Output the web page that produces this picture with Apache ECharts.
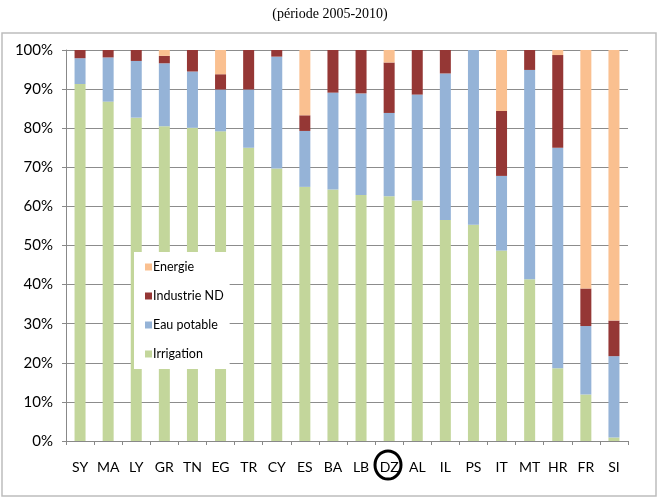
<!DOCTYPE html>
<html>
<head>
<meta charset="utf-8">
<script src="https://cdn.jsdelivr.net/npm/echarts@6/dist/echarts.min.js"></script>
<style>
  html, body { margin: 0; padding: 0; background: #fff; }
  #chart { width: 660px; height: 499px; }
</style>
</head>
<body>
<div id="chart"></div>
<script>
const countries = ["SY", "MA", "LY", "GR", "TN", "EG", "TR", "CY", "ES", "BA",
  "LB", "DZ", "AL", "IL", "PS", "IT", "MT", "HR", "FR", "SI"];

// shares in %
const irrigation = [91.3, 86.8, 82.7, 80.5, 80.1, 79.2, 75.0, 69.7, 65.0, 64.3,
  62.9, 62.6, 61.5, 56.5, 55.3, 48.7, 41.4, 18.6, 11.9, 0.9];
const eauPotable = [6.6, 11.3, 14.5, 16.1, 14.4, 10.7, 14.9, 28.6, 14.3, 24.8,
  26.0, 21.3, 27.1, 37.5, 44.7, 19.1, 53.5, 56.4, 17.5, 20.8];
const industrie = [2.1, 1.9, 2.8, 1.9, 5.5, 3.9, 10.1, 1.7, 4.0, 10.9,
  11.1, 12.9, 11.4, 6.0, 0, 16.6, 5.1, 23.7, 9.6, 9.1];
const energie = [0, 0, 0, 1.5, 0, 6.2, 0, 0, 16.9, 0,
  0, 3.2, 0, 0, 0, 15.6, 0, 1.3, 61.0, 69.2];

const yTicks = [0, 10, 20, 30, 40, 50, 60, 70, 80, 90, 100];

const font = "Lato, 'Open Sans', sans-serif";

const chart = echarts.init(document.getElementById("chart"), null, { renderer: "canvas" });

function bar(name, data, color) {
  return {
    name: name,
    type: "bar",
    stack: "total",
    data: data,
    barWidth: 11,
    itemStyle: { color: color },
    emphasis: { disabled: true }
  };
}

chart.setOption({
  animation: false,
  title: {
    text: "(période 2005-2010)",
    left: "center",
    top: 2,
    textStyle: {
      fontFamily: "'Liberation Serif', serif",
      fontSize: 14,
      fontWeight: "normal",
      color: "#000"
    }
  },
  graphic: [
    {
      type: "rect",
      shape: { x: 2, y: 33, width: 654, height: 463 },
      style: { fill: "none", stroke: "#bdbdbd", lineWidth: 1.5 },
      z: -1
    },
    {
      // circle drawn round the DZ label
      type: "ellipse",
      shape: { cx: 388, cy: 465, rx: 13, ry: 14 },
      style: { fill: "none", stroke: "#000", lineWidth: 3 },
      z: 10
    }
  ],
  grid: { left: 66, right: 32, top: 50, bottom: 58 },
  legend: {
    data: ["Energie", "Industrie ND", "Eau potable", "Irrigation"],
    orient: "vertical",
    left: 134,
    top: 252,
    padding: [8, 6, 8, 11],
    itemGap: 15,
    itemWidth: 7,
    itemHeight: 7,
    icon: "rect",
    backgroundColor: "#fff",
    selectedMode: false,
    textStyle: {
      fontFamily: font,
      fontSize: 12.5,
      color: "#000",
      lineHeight: 14,
      padding: [0, 0, 0, -4]
    }
  },
  xAxis: {
    type: "category",
    data: countries,
    axisLine: { lineStyle: { color: "#888" } },
    axisTick: { show: true, length: 4, lineStyle: { color: "#888" } },
    axisLabel: { interval: 0, fontFamily: font, fontSize: 14, color: "#000", margin: 19 }
  },
  yAxis: {
    type: "value",
    min: 0,
    max: 100,
    interval: 10,
    axisLine: { show: true, lineStyle: { color: "#888" } },
    axisTick: { show: true, length: 4, lineStyle: { color: "#888" } },
    splitLine: { lineStyle: { color: "#8c8c8c" } },
    axisLabel: {
      fontFamily: font,
      fontSize: 15,
      color: "#000",
      margin: 13,
      formatter: v => (yTicks.includes(v) ? v + "%" : "")
    }
  },
  series: [
    bar("Irrigation", irrigation, "#c3d69b"),
    bar("Eau potable", eauPotable, "#95b3d7"),
    bar("Industrie ND", industrie, "#953735"),
    bar("Energie", energie, "#fac090")
  ]
});
</script>
</body>
</html>
